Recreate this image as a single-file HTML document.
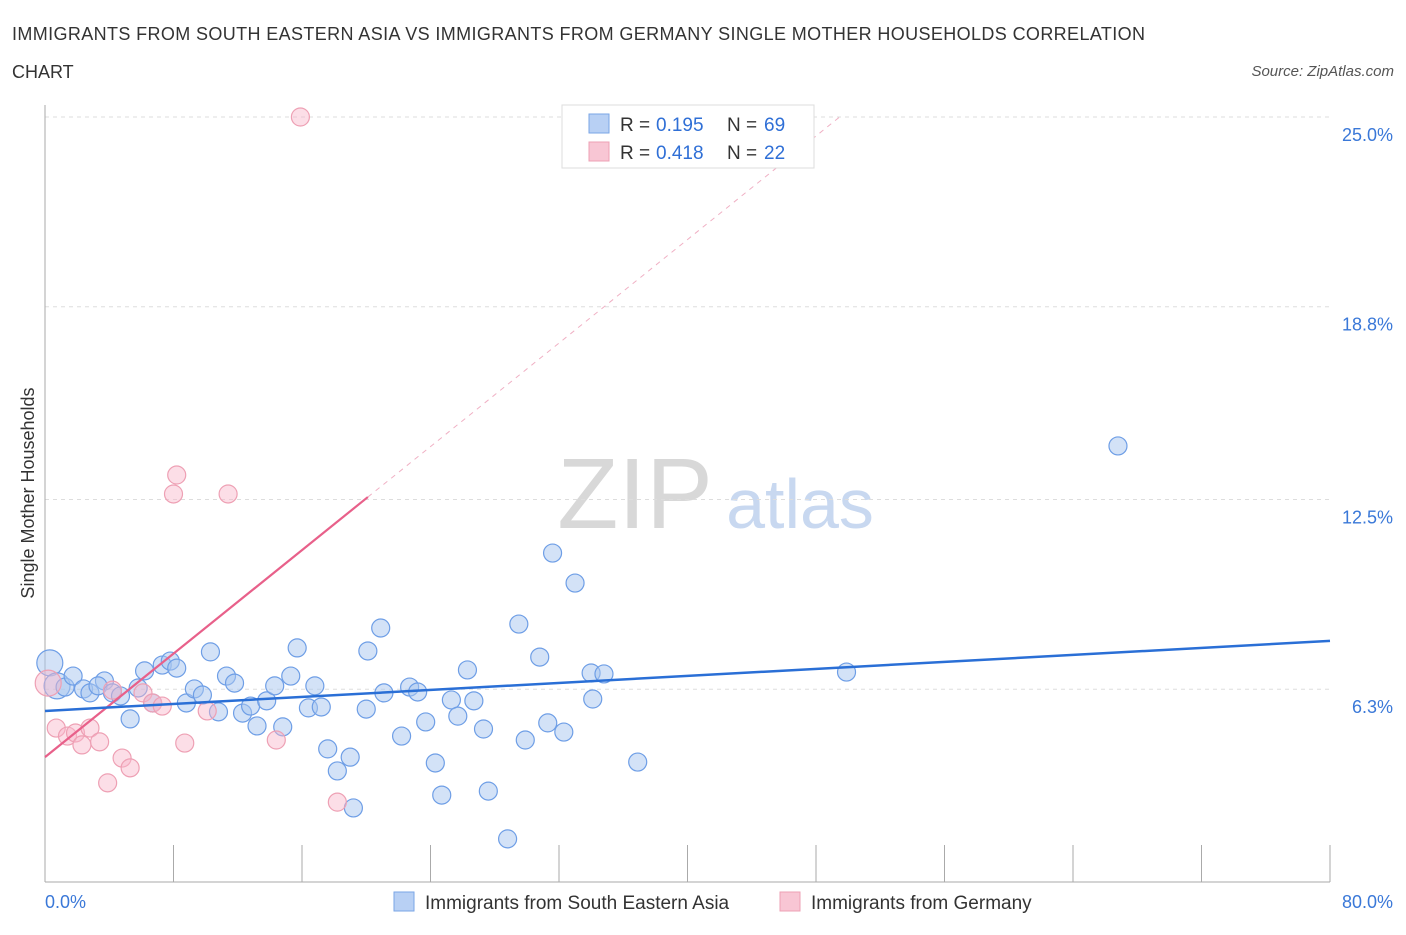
<!DOCTYPE html>
<html><head><meta charset="utf-8"><style>
body{margin:0;background:#fff;font-family:"Liberation Sans",sans-serif;}
svg text{font-family:"Liberation Sans",sans-serif;}
</style></head><body>
<svg id="chart" width="1406" height="930">
<text x="12" y="40" font-size="18" fill="#333" textLength="1133">IMMIGRANTS FROM SOUTH EASTERN ASIA VS IMMIGRANTS FROM GERMANY SINGLE MOTHER HOUSEHOLDS CORRELATION</text>
<text x="12" y="78" font-size="18" fill="#333">CHART</text>
<text x="1394" y="76" font-size="15" fill="#555" font-style="italic" text-anchor="end">Source: ZipAtlas.com</text>
<text x="635" y="528" font-size="100" fill="#d8d8d8" font-family="Liberation Serif" text-anchor="middle">ZIP</text>
<text x="800" y="528" font-size="70" fill="#c8d8f0" text-anchor="middle">atlas</text>
<text transform="translate(34,493) rotate(-90)" font-size="18" fill="#333" text-anchor="middle">Single Mother Households</text>
<g id="axes"></g>
<g id="marks"></g>
<rect x="562" y="105" width="252" height="63" fill="#fff" stroke="#ddd"/>
<rect x="589" y="114" width="20" height="19" fill="#b8d0f4" stroke="#7aa6e6"/>
<text x="620" y="131" font-size="19" fill="#333">R =</text>
<text x="656" y="131" font-size="19" fill="#2f6fd6">0.195</text>
<text x="727" y="131" font-size="19" fill="#333">N =</text>
<text x="764" y="131" font-size="19" fill="#2f6fd6">69</text>
<rect x="589" y="142" width="20" height="19" fill="#f8c6d4" stroke="#eea0b4"/>
<text x="620" y="159" font-size="19" fill="#333">R =</text>
<text x="656" y="159" font-size="19" fill="#2f6fd6">0.418</text>
<text x="727" y="159" font-size="19" fill="#333">N =</text>
<text x="764" y="159" font-size="19" fill="#2f6fd6">22</text>
<rect x="394" y="892" width="20" height="19" fill="#b8d0f4" stroke="#7aa6e6"/>
<text x="425" y="909" font-size="19" fill="#333">Immigrants from South Eastern Asia</text>
<rect x="780" y="892" width="20" height="19" fill="#f8c6d4" stroke="#eea0b4"/>
<text x="811" y="909" font-size="19" fill="#333">Immigrants from Germany</text>
</svg>
<script>
const blueX=[0.3,0.75,1.25,1.75,2.4,2.8,3.7,3.3,4.2,4.7,5.3,5.8,6.2,6.7,7.3,7.8,8.2,8.8,9.3,9.8,10.3,10.8,11.3,11.8,12.3,12.8,13.2,13.8,14.3,14.8,15.3,15.7,16.4,16.8,17.2,17.6,18.2,19.0,19.2,20.0,20.1,20.9,21.1,22.2,22.7,23.2,23.7,24.3,24.7,25.3,25.7,26.3,26.7,27.3,27.6,28.8,29.5,29.9,30.8,31.3,31.6,32.3,33.0,34.0,34.1,34.8,36.9,49.9,66.8];
const blueY=[7.16,6.41,6.37,6.73,6.31,6.18,6.57,6.41,6.18,6.08,5.33,6.34,6.90,5.85,7.09,7.22,6.99,5.85,6.31,6.11,7.52,5.56,6.73,6.50,5.52,5.75,5.10,5.92,6.41,5.07,6.73,7.65,5.69,6.41,5.72,4.35,3.63,4.08,2.42,5.65,7.55,8.30,6.18,4.77,6.37,6.21,5.23,3.89,2.84,5.95,5.42,6.93,5.92,5.00,2.97,1.41,8.43,4.64,7.35,5.20,10.75,4.90,9.77,6.83,5.98,6.80,3.92,6.86,14.25];
const pinkX=[0.2,0.7,1.4,1.9,2.3,2.8,3.4,3.9,4.2,4.8,5.3,6.1,6.7,7.3,8.0,8.2,8.7,10.1,11.4,14.4,15.9,18.2];
const pinkY=[6.50,5.03,4.77,4.87,4.48,5.03,4.58,3.24,6.27,4.05,3.73,6.18,5.85,5.75,12.68,13.30,4.54,5.59,12.68,4.64,25.0,2.61];
const blueTrend=[5.59,7.88];
const pinkTrend=[4.08,12.58,20.1];
const yTicks=[6.3,12.5,18.8,25.0];
const yTickLabels=["6.3%","12.5%","18.8%","25.0%"];
const xTicks=[0,8,16,24,32,40,48,56,64,72,80];

const NS="http://www.w3.org/2000/svg";
const X=v=>45+v/80*1285, Y=v=>882-v/25*765;
function mk(t,a,p){const e=document.createElementNS(NS,t);for(const k in a)e.setAttribute(k,a[k]);p.appendChild(e);return e;}
const ax=document.getElementById('axes'), mg=document.getElementById('marks');
yTicks.forEach((t,i)=>{
 const g=mk('line',{x1:45,x2:1330,y1:Y(t),y2:Y(t),stroke:'#ddd','stroke-dasharray':'4,4'},ax);
 
 
 const l=mk('text',{x:1393,y:Y(t)+24,'font-size':18,fill:'#3a78d8','text-anchor':'end'},ax);
 l.textContent=yTickLabels[i];
 
 
});
const la=mk('line',{x1:45,x2:45,y1:105,y2:882,stroke:'#aaa'},ax);


const ba=mk('line',{x1:45,x2:1330,y1:882,y2:882,stroke:'#aaa'},ax);


xTicks.forEach(t=>{
 const e=mk('line',{x1:X(t),x2:X(t),y1:845,y2:882,stroke:'#aaa'},ax);
 
 
});
const x0=mk('text',{x:45,y:908,'font-size':18,fill:'#3a78d8'},ax);x0.textContent='0.0%';


const x1=mk('text',{x:1393,y:908,'font-size':18,fill:'#3a78d8','text-anchor':'end'},ax);x1.textContent='80.0%';



blueX.forEach((v,i)=>{
 const c=mk('circle',{cx:X(v),cy:Y(blueY[i]),r:i<2?13:9,fill:'rgba(168,198,240,0.5)',stroke:'#6e9ee6','stroke-width':1.2},mg);
 
 
});
pinkX.forEach((v,i)=>{
 const c=mk('circle',{cx:X(v),cy:Y(pinkY[i]),r:i<1?13:9,fill:'rgba(248,182,202,0.45)',stroke:'#eea0b4','stroke-width':1.2},mg);
 
 
});
const slope=(pinkTrend[1]-pinkTrend[0])/pinkTrend[2];
const xEnd=(25-pinkTrend[0])/slope;
const pd=mk('line',{x1:X(pinkTrend[2]),y1:Y(pinkTrend[1]),x2:X(xEnd),y2:Y(25),stroke:'#f0b0c4','stroke-width':1,'stroke-dasharray':'5,5'},mg);


const pl=mk('line',{x1:X(0),y1:Y(pinkTrend[0]),x2:X(pinkTrend[2]),y2:Y(pinkTrend[1]),stroke:'#e8608a','stroke-width':2.2},mg);


const bl=mk('line',{x1:X(0),y1:Y(blueTrend[0]),x2:X(80),y2:Y(blueTrend[1]),stroke:'#2a6fd6','stroke-width':2.5},mg);


</script>
</body></html>
